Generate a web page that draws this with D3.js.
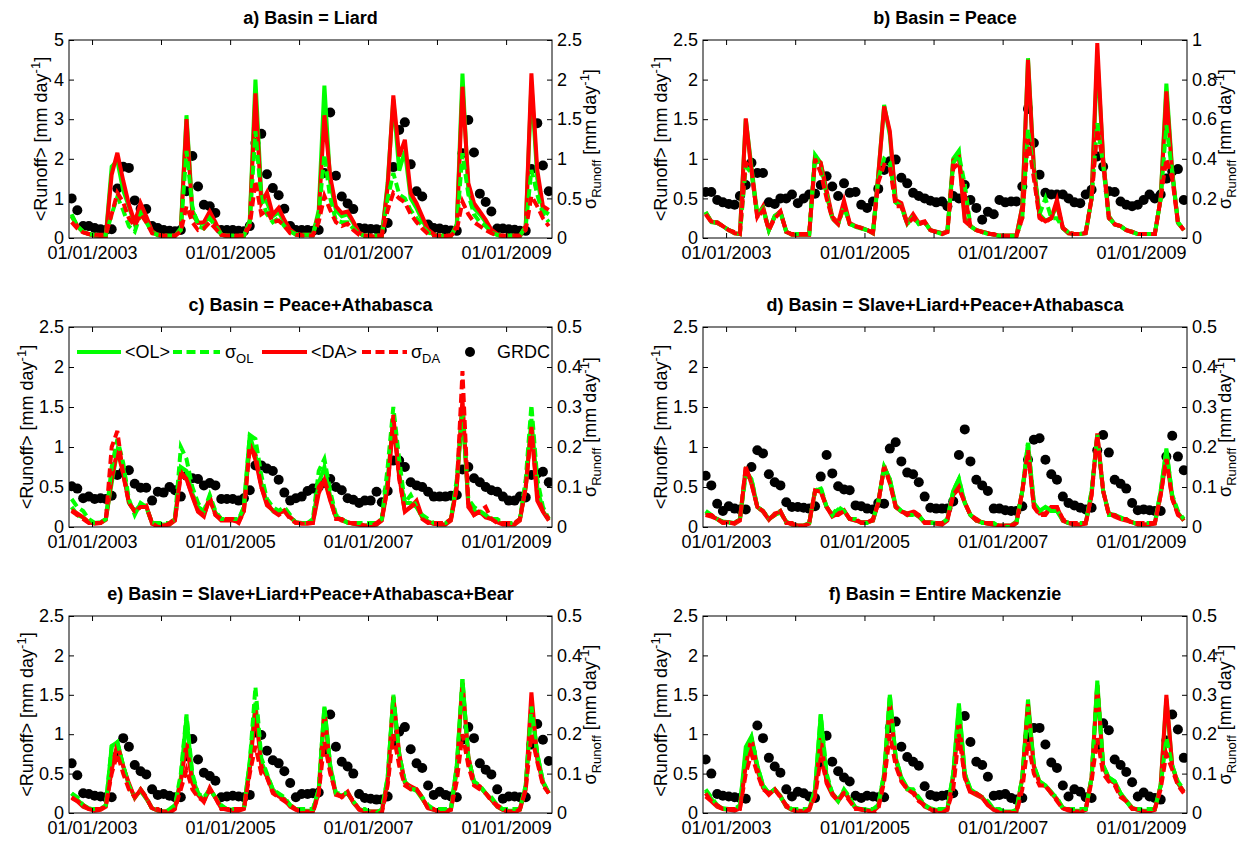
<!DOCTYPE html>
<html>
<head>
<meta charset="utf-8">
<script src="https://cdn.jsdelivr.net/npm/d3@7"></script>
<style>
  body { margin: 0; background: #fff; }
  svg { display: block; font-family: "Liberation Sans", Arial, Helvetica, sans-serif; }
</style>
</head>
<body>
<svg id="chart" width="1245" height="842"></svg>
<script>
"use strict";

// Monthly values, Sep 2002 .. Aug 2009 (84 months). One line per calendar year.

// a) Liard
const liardOL = [0.6, 0.3, 0.15, 0.1,
  0.06, 0.05, 0.05, 1.8, 1.95, 1.2, 0.8, 0.35, 0.8, 0.5, 0.15, 0.07,
  0.05, 0.04, 0.05, 0.25, 3.1, 0.7, 0.4, 0.35, 0.6, 0.35, 0.08, 0.05,
  0.04, 0.04, 0.05, 0.45, 4.0, 1.1, 0.9, 0.55, 0.65, 0.4, 0.18, 0.08,
  0.07, 0.07, 0.07, 0.7, 3.85, 1.4, 0.7, 0.55, 0.6, 0.38, 0.12, 0.05,
  0.04, 0.04, 0.04, 1.4, 3.5, 1.7, 2.2, 1.0, 0.75, 0.45, 0.18, 0.08,
  0.05, 0.05, 0.05, 0.35, 4.15, 1.2, 0.75, 0.6, 0.4, 0.18, 0.08, 0.04,
  0.04, 0.04, 0.04, 0.3, 3.9, 1.5, 0.7, 0.6];
const liardOLsd = [0.28, 0.15, 0.08, 0.05,
  0.04, 0.04, 0.04, 0.3, 0.52, 0.35, 0.15, 0.08, 0.3, 0.2, 0.07, 0.04,
  0.03, 0.03, 0.03, 0.1, 1.1, 0.4, 0.15, 0.12, 0.25, 0.15, 0.05, 0.03,
  0.03, 0.03, 0.03, 0.2, 1.35, 0.5, 0.3, 0.2, 0.25, 0.15, 0.08, 0.05,
  0.04, 0.04, 0.04, 0.3, 1.05, 0.5, 0.22, 0.2, 0.2, 0.12, 0.05, 0.03,
  0.03, 0.03, 0.03, 0.5, 0.82, 0.55, 0.5, 0.35, 0.25, 0.15, 0.07, 0.04,
  0.03, 0.03, 0.03, 0.15, 1.07, 0.55, 0.3, 0.2, 0.15, 0.07, 0.04, 0.03,
  0.03, 0.03, 0.03, 0.15, 0.86, 0.55, 0.3, 0.2];
const liardDA = [0.55, 0.3, 0.15, 0.1,
  0.06, 0.05, 0.05, 1.6, 2.15, 1.45, 0.85, 0.4, 0.88, 0.55, 0.17, 0.08,
  0.05, 0.04, 0.05, 0.2, 3.0, 0.6, 0.38, 0.4, 0.67, 0.4, 0.08, 0.05,
  0.04, 0.04, 0.05, 0.4, 3.65, 0.88, 1.15, 0.59, 0.76, 0.46, 0.21, 0.1,
  0.08, 0.08, 0.08, 0.6, 3.1, 1.55, 0.8, 0.63, 0.67, 0.42, 0.13, 0.06,
  0.04, 0.04, 0.04, 1.3, 3.6, 2.06, 2.48, 1.13, 0.88, 0.55, 0.21, 0.1,
  0.05, 0.05, 0.05, 0.3, 3.82, 1.39, 0.88, 0.67, 0.46, 0.21, 0.1, 0.05,
  0.05, 0.05, 0.05, 0.3, 4.16, 1.72, 0.8, 0.71];
const liardDAsd = [0.2, 0.12, 0.07, 0.05,
  0.04, 0.04, 0.04, 0.3, 0.57, 0.45, 0.25, 0.15, 0.3, 0.2, 0.06, 0.04,
  0.03, 0.03, 0.03, 0.08, 0.4, 0.2, 0.1, 0.12, 0.2, 0.12, 0.04, 0.03,
  0.03, 0.03, 0.03, 0.15, 0.72, 0.3, 0.35, 0.2, 0.22, 0.15, 0.06, 0.04,
  0.03, 0.03, 0.03, 0.2, 0.53, 0.35, 0.2, 0.15, 0.18, 0.1, 0.04, 0.03,
  0.03, 0.03, 0.03, 0.35, 0.57, 0.5, 0.45, 0.3, 0.2, 0.12, 0.05, 0.03,
  0.03, 0.03, 0.03, 0.1, 0.46, 0.3, 0.2, 0.15, 0.1, 0.06, 0.03, 0.03,
  0.03, 0.03, 0.03, 0.1, 0.53, 0.4, 0.25, 0.15];
const liardGRDC = [1.0, 0.7, 0.3, 0.3,
  0.25, 0.22, 0.2, 0.22, 1.25, 1.8, 1.77, 0.95, 0.74, 0.73, 0.3, 0.25,
  0.2, 0.18, 0.17, 0.2, 1.18, 2.07, 1.3, 0.84, 0.8, 0.63, 0.2, 0.2,
  0.2, 0.18, 0.17, 0.3, 2.4, 2.63, 1.61, 1.26, 1.08, 0.74, 0.3, 0.2,
  0.2, 0.2, 0.18, 0.2, 1.64, 3.17, 1.57, 1.05, 0.87, 0.73, 0.25, 0.24,
  0.23, 0.22, 0.2, 0.38, 1.79, 2.73, 2.92, 1.86, 1.18, 1.05, 0.34, 0.25,
  0.24, 0.21, 0.19, 0.18, 2.14, 2.98, 2.16, 1.12, 0.91, 0.67, 0.24, 0.24,
  0.22, 0.21, 0.18, 0.18, 1.74, 2.9, 1.83, 1.18];

// b) Peace
const peaceOL = [0.33, 0.2, 0.19, 0.15,
  0.1, 0.06, 0.05, 1.5, 0.9, 0.3, 0.38, 0.1, 0.28, 0.33, 0.08, 0.04,
  0.04, 0.04, 0.04, 1.05, 0.95, 0.55, 0.25, 0.18, 0.4, 0.18, 0.14, 0.12,
  0.1, 0.06, 0.8, 1.68, 1.3, 0.45, 0.4, 0.18, 0.28, 0.18, 0.2, 0.1,
  0.08, 0.06, 0.08, 1.0, 1.1, 0.25, 0.15, 0.1, 0.08, 0.06, 0.04, 0.03,
  0.03, 0.03, 0.03, 0.4, 2.27, 0.9, 0.3, 0.22, 0.25, 0.42, 0.12, 0.06,
  0.05, 0.05, 0.06, 0.5, 2.3, 1.0, 0.28, 0.17, 0.15, 0.1, 0.08, 0.05,
  0.05, 0.05, 0.05, 0.5, 1.95, 0.85, 0.2, 0.1];
const peaceOLsd = [0.13, 0.08, 0.08, 0.06,
  0.04, 0.03, 0.02, 0.36, 0.33, 0.12, 0.15, 0.04, 0.11, 0.13, 0.03, 0.02,
  0.02, 0.02, 0.02, 0.42, 0.35, 0.22, 0.1, 0.07, 0.16, 0.07, 0.06, 0.05,
  0.04, 0.03, 0.3, 0.4, 0.38, 0.18, 0.16, 0.07, 0.11, 0.07, 0.08, 0.04,
  0.03, 0.02, 0.03, 0.38, 0.42, 0.27, 0.06, 0.04, 0.03, 0.02, 0.02, 0.01,
  0.01, 0.01, 0.01, 0.1, 0.55, 0.33, 0.12, 0.2, 0.1, 0.1, 0.05, 0.03,
  0.02, 0.02, 0.03, 0.2, 0.58, 0.37, 0.1, 0.07, 0.06, 0.04, 0.03, 0.02,
  0.02, 0.02, 0.02, 0.2, 0.57, 0.33, 0.08, 0.04];
const peaceDA = [0.32, 0.21, 0.19, 0.15,
  0.1, 0.06, 0.05, 1.51, 0.85, 0.27, 0.4, 0.1, 0.27, 0.34, 0.08, 0.04,
  0.04, 0.04, 0.04, 1.0, 0.95, 0.6, 0.27, 0.19, 0.47, 0.19, 0.15, 0.13,
  0.1, 0.06, 0.8, 1.66, 1.35, 0.48, 0.44, 0.19, 0.3, 0.19, 0.21, 0.1,
  0.08, 0.06, 0.08, 0.98, 1.02, 0.21, 0.15, 0.1, 0.08, 0.06, 0.04, 0.03,
  0.03, 0.03, 0.03, 0.4, 2.25, 0.86, 0.27, 0.21, 0.25, 0.48, 0.13, 0.06,
  0.05, 0.05, 0.06, 0.5, 2.46, 0.99, 0.27, 0.17, 0.15, 0.1, 0.08, 0.05,
  0.05, 0.05, 0.05, 0.5, 1.85, 0.82, 0.19, 0.1];
const peaceDAsd = [0.12, 0.08, 0.08, 0.06,
  0.04, 0.03, 0.02, 0.38, 0.35, 0.1, 0.14, 0.04, 0.1, 0.13, 0.03, 0.02,
  0.02, 0.02, 0.02, 0.4, 0.33, 0.2, 0.1, 0.07, 0.17, 0.07, 0.06, 0.05,
  0.04, 0.03, 0.28, 0.37, 0.36, 0.16, 0.16, 0.07, 0.1, 0.07, 0.08, 0.04,
  0.03, 0.02, 0.03, 0.35, 0.38, 0.22, 0.06, 0.04, 0.03, 0.02, 0.02, 0.01,
  0.01, 0.01, 0.01, 0.1, 0.5, 0.3, 0.1, 0.08, 0.1, 0.17, 0.05, 0.03,
  0.02, 0.02, 0.03, 0.2, 0.55, 0.38, 0.1, 0.07, 0.06, 0.04, 0.03, 0.02,
  0.02, 0.02, 0.02, 0.2, 0.4, 0.3, 0.08, 0.04];
const peaceGRDC = [0.58, 0.58, 0.48, 0.45,
  0.43, 0.42, 0.53, 0.67, 0.95, 0.82, 0.82, 0.45, 0.43, 0.5, 0.5, 0.55,
  0.44, 0.5, 0.55, 0.56, 0.67, 0.78, 0.65, 0.53, 0.69, 0.57, 0.58, 0.42,
  0.38, 0.46, 0.62, 0.86, 0.97, 0.99, 0.76, 0.69, 0.57, 0.53, 0.5, 0.47,
  0.45, 0.46, 0.4, 0.53, 0.5, 0.67, 0.48, 0.38, 0.23, 0.33, 0.3, 0.48,
  0.45, 0.46, 0.46, 0.65, 1.63, 1.2, 0.8, 0.57, 0.55, 0.55, 0.55, 0.5,
  0.45, 0.44, 0.55, 0.61, 1.03, 0.9, 0.59, 0.58, 0.46, 0.42, 0.4, 0.42,
  0.48, 0.55, 0.5, 0.55, 0.75, 0.84, 0.87, 0.48];

// c) Peace+Athabasca
const paOL = [0.25, 0.15, 0.12, 0.06,
  0.05, 0.06, 0.1, 0.55, 0.95, 0.75, 0.3, 0.2, 0.28, 0.25, 0.05, 0.03,
  0.03, 0.03, 0.1, 0.75, 0.7, 0.42, 0.25, 0.2, 0.35, 0.18, 0.1, 0.09,
  0.09, 0.08, 0.25, 1.15, 0.9, 0.55, 0.3, 0.2, 0.18, 0.2, 0.12, 0.06,
  0.05, 0.05, 0.08, 0.55, 0.75, 0.38, 0.14, 0.09, 0.06, 0.04, 0.03, 0.02,
  0.02, 0.03, 0.1, 0.6, 1.35, 0.65, 0.3, 0.3, 0.25, 0.12, 0.07, 0.04,
  0.03, 0.03, 0.1, 0.55, 1.45, 0.3, 0.2, 0.18, 0.14, 0.1, 0.07, 0.04,
  0.03, 0.03, 0.1, 0.5, 1.35, 0.5, 0.2, 0.09];
const paOLsd = [0.07, 0.05, 0.04, 0.02,
  0.01, 0.01, 0.02, 0.15, 0.22, 0.16, 0.07, 0.03, 0.06, 0.05, 0.01, 0.01,
  0.01, 0.01, 0.02, 0.2, 0.17, 0.1, 0.06, 0.04, 0.08, 0.04, 0.02, 0.02,
  0.02, 0.02, 0.05, 0.23, 0.22, 0.13, 0.07, 0.05, 0.04, 0.05, 0.03, 0.01,
  0.01, 0.01, 0.02, 0.14, 0.17, 0.09, 0.03, 0.02, 0.01, 0.01, 0.01, 0.01,
  0.01, 0.01, 0.02, 0.15, 0.3, 0.17, 0.06, 0.08, 0.05, 0.03, 0.02, 0.01,
  0.01, 0.01, 0.02, 0.12, 0.3, 0.07, 0.05, 0.04, 0.03, 0.02, 0.02, 0.01,
  0.01, 0.01, 0.02, 0.12, 0.305, 0.12, 0.05, 0.02];
const paDA = [0.21, 0.17, 0.12, 0.06,
  0.04, 0.05, 0.09, 0.6, 0.96, 0.67, 0.31, 0.19, 0.25, 0.27, 0.04, 0.02,
  0.02, 0.03, 0.08, 0.69, 0.6, 0.38, 0.19, 0.13, 0.38, 0.15, 0.08, 0.08,
  0.08, 0.06, 0.2, 1.04, 0.84, 0.5, 0.27, 0.21, 0.17, 0.21, 0.12, 0.06,
  0.04, 0.04, 0.05, 0.42, 0.59, 0.33, 0.12, 0.08, 0.06, 0.04, 0.03, 0.02,
  0.02, 0.03, 0.08, 0.5, 1.3, 0.63, 0.19, 0.25, 0.33, 0.12, 0.06, 0.04,
  0.03, 0.03, 0.08, 0.5, 1.6, 0.25, 0.15, 0.19, 0.12, 0.1, 0.06, 0.03,
  0.03, 0.03, 0.08, 0.5, 1.25, 0.33, 0.19, 0.08];
const paDAsd = [0.04, 0.03, 0.02, 0.01,
  0.01, 0.01, 0.02, 0.2, 0.24, 0.13, 0.06, 0.04, 0.05, 0.05, 0.01, 0.0,
  0.0, 0.01, 0.02, 0.13, 0.12, 0.08, 0.04, 0.03, 0.07, 0.03, 0.02, 0.02,
  0.02, 0.01, 0.04, 0.2, 0.18, 0.1, 0.06, 0.04, 0.03, 0.04, 0.02, 0.01,
  0.01, 0.01, 0.01, 0.1, 0.12, 0.07, 0.02, 0.02, 0.01, 0.01, 0.01, 0.0,
  0.0, 0.01, 0.02, 0.1, 0.28, 0.12, 0.04, 0.05, 0.06, 0.02, 0.01, 0.01,
  0.01, 0.01, 0.02, 0.1, 0.39, 0.06, 0.03, 0.04, 0.05, 0.02, 0.01, 0.01,
  0.01, 0.01, 0.02, 0.1, 0.25, 0.08, 0.04, 0.02];
const paGRDC = [0.51, 0.48, 0.36, 0.38,
  0.35, 0.36, 0.35, 0.39, 0.65, 0.69, 0.71, 0.54, 0.49, 0.49, 0.33, 0.44,
  0.43, 0.5, 0.46, 0.38, 0.64, 0.61, 0.6, 0.52, 0.55, 0.52, 0.35, 0.35,
  0.35, 0.33, 0.36, 0.46, 0.77, 0.77, 0.73, 0.7, 0.59, 0.43, 0.33, 0.36,
  0.38, 0.45, 0.48, 0.5, 0.55, 0.6, 0.5, 0.46, 0.36, 0.34, 0.3, 0.33,
  0.33, 0.44, 0.31, 0.45, 0.83, 0.83, 0.75, 0.56, 0.52, 0.5, 0.44, 0.38,
  0.38, 0.38, 0.39, 0.4, 0.72, 0.75, 0.61, 0.56, 0.5, 0.46, 0.44, 0.38,
  0.33, 0.33, 0.38, 0.37, 0.65, 0.67, 0.69, 0.56];

// d) Slave+Liard+Peace+Athabasca
const slpaOL = [0.18, 0.14, 0.1, 0.07,
  0.06, 0.05, 0.1, 0.7, 0.6, 0.25, 0.2, 0.1, 0.15, 0.18, 0.07, 0.03,
  0.02, 0.02, 0.05, 0.45, 0.48, 0.25, 0.15, 0.22, 0.2, 0.1, 0.08, 0.06,
  0.06, 0.08, 0.32, 0.75, 0.6, 0.27, 0.2, 0.17, 0.17, 0.13, 0.06, 0.06,
  0.05, 0.04, 0.1, 0.45, 0.6, 0.3, 0.15, 0.08, 0.06, 0.04, 0.03, 0.02,
  0.02, 0.02, 0.07, 0.45, 1.05, 0.3, 0.2, 0.25, 0.2, 0.2, 0.08, 0.05,
  0.03, 0.03, 0.05, 0.45, 1.12, 0.45, 0.17, 0.15, 0.12, 0.09, 0.06, 0.03,
  0.03, 0.03, 0.05, 0.45, 0.98, 0.38, 0.18, 0.08];
const slpaOLsd = [0.04, 0.03, 0.02, 0.01,
  0.01, 0.01, 0.02, 0.13, 0.12, 0.05, 0.04, 0.02, 0.03, 0.04, 0.01, 0.01,
  0.0, 0.0, 0.01, 0.09, 0.1, 0.05, 0.03, 0.05, 0.04, 0.02, 0.02, 0.01,
  0.01, 0.02, 0.06, 0.15, 0.12, 0.05, 0.04, 0.03, 0.03, 0.03, 0.01, 0.01,
  0.01, 0.01, 0.02, 0.09, 0.12, 0.06, 0.03, 0.02, 0.01, 0.01, 0.01, 0.0,
  0.0, 0.0, 0.01, 0.09, 0.21, 0.06, 0.04, 0.05, 0.04, 0.04, 0.02, 0.01,
  0.01, 0.01, 0.01, 0.09, 0.23, 0.09, 0.03, 0.03, 0.02, 0.02, 0.01, 0.01,
  0.01, 0.01, 0.01, 0.09, 0.19, 0.08, 0.04, 0.02];
const slpaDA = [0.15, 0.13, 0.1, 0.06,
  0.06, 0.04, 0.08, 0.75, 0.54, 0.25, 0.19, 0.09, 0.17, 0.19, 0.06, 0.03,
  0.02, 0.02, 0.04, 0.46, 0.44, 0.25, 0.13, 0.17, 0.21, 0.1, 0.08, 0.06,
  0.06, 0.08, 0.3, 0.77, 0.56, 0.25, 0.19, 0.17, 0.19, 0.13, 0.06, 0.06,
  0.04, 0.03, 0.08, 0.4, 0.48, 0.31, 0.15, 0.08, 0.06, 0.04, 0.03, 0.02,
  0.02, 0.02, 0.06, 0.45, 0.96, 0.25, 0.17, 0.17, 0.25, 0.25, 0.08, 0.05,
  0.03, 0.03, 0.04, 0.4, 1.17, 0.45, 0.17, 0.13, 0.1, 0.08, 0.06, 0.03,
  0.03, 0.03, 0.04, 0.4, 0.86, 0.36, 0.17, 0.08];
const slpaDAsd = [0.03, 0.03, 0.02, 0.01,
  0.01, 0.01, 0.02, 0.15, 0.11, 0.05, 0.04, 0.02, 0.03, 0.04, 0.01, 0.01,
  0.0, 0.0, 0.01, 0.09, 0.09, 0.05, 0.03, 0.03, 0.04, 0.02, 0.02, 0.01,
  0.01, 0.02, 0.06, 0.15, 0.11, 0.05, 0.04, 0.03, 0.04, 0.03, 0.01, 0.01,
  0.01, 0.01, 0.02, 0.08, 0.1, 0.06, 0.03, 0.02, 0.01, 0.01, 0.01, 0.0,
  0.0, 0.0, 0.01, 0.09, 0.19, 0.05, 0.03, 0.03, 0.05, 0.05, 0.02, 0.01,
  0.01, 0.01, 0.01, 0.08, 0.23, 0.09, 0.03, 0.03, 0.02, 0.02, 0.01, 0.01,
  0.01, 0.01, 0.01, 0.08, 0.17, 0.07, 0.03, 0.02];
const slpaGRDC = [0.64, 0.52, 0.29, 0.2,
  0.26, 0.23, 0.22, 0.22, 0.75, 0.96, 0.92, 0.66, 0.56, 0.52, 0.31, 0.25,
  0.25, 0.24, 0.23, 0.26, 0.63, 0.9, 0.67, 0.51, 0.47, 0.46, 0.27, 0.26,
  0.23, 0.22, 0.3, 0.29, 0.98, 1.06, 0.82, 0.68, 0.66, 0.56, 0.38, 0.24,
  0.23, 0.23, 0.23, 0.32, 0.9, 1.22, 0.82, 0.59, 0.52, 0.45, 0.23, 0.23,
  0.21, 0.2, 0.2, 0.26, 0.84, 1.09, 1.11, 0.84, 0.66, 0.59, 0.38, 0.3,
  0.27, 0.24, 0.22, 0.24, 0.96, 1.15, 0.93, 0.59, 0.54, 0.48, 0.3, 0.21,
  0.22, 0.21, 0.2, 0.2, 0.88, 1.14, 0.88, 0.71];

// e) Slave+Liard+Peace+Athabasca+Bear
const slpabOL = [0.25, 0.17, 0.1, 0.06,
  0.04, 0.05, 0.1, 0.85, 0.9, 0.6, 0.35, 0.2, 0.28, 0.18, 0.06, 0.03,
  0.02, 0.03, 0.08, 0.45, 1.22, 0.45, 0.25, 0.16, 0.3, 0.2, 0.08, 0.05,
  0.04, 0.04, 0.06, 0.65, 1.4, 0.65, 0.48, 0.3, 0.22, 0.18, 0.1, 0.05,
  0.03, 0.03, 0.03, 0.3, 1.35, 0.6, 0.25, 0.22, 0.25, 0.14, 0.05, 0.03,
  0.02, 0.02, 0.03, 0.45, 1.47, 0.72, 0.4, 0.32, 0.28, 0.18, 0.07, 0.04,
  0.03, 0.03, 0.05, 0.6, 1.7, 0.7, 0.4, 0.33, 0.25, 0.17, 0.08, 0.04,
  0.03, 0.03, 0.05, 0.35, 1.35, 0.75, 0.4, 0.25];
const slpabOLsd = [0.05, 0.04, 0.02, 0.01,
  0.01, 0.01, 0.02, 0.17, 0.18, 0.12, 0.07, 0.04, 0.06, 0.04, 0.01, 0.01,
  0.0, 0.01, 0.02, 0.1, 0.25, 0.1, 0.05, 0.04, 0.06, 0.04, 0.02, 0.01,
  0.01, 0.01, 0.01, 0.13, 0.32, 0.14, 0.1, 0.06, 0.05, 0.04, 0.02, 0.01,
  0.01, 0.01, 0.01, 0.06, 0.27, 0.12, 0.05, 0.05, 0.05, 0.03, 0.01, 0.01,
  0.0, 0.0, 0.01, 0.09, 0.3, 0.15, 0.08, 0.06, 0.06, 0.04, 0.02, 0.01,
  0.01, 0.01, 0.01, 0.12, 0.34, 0.14, 0.08, 0.07, 0.05, 0.04, 0.02, 0.01,
  0.01, 0.01, 0.01, 0.07, 0.27, 0.15, 0.08, 0.05];
const slpabDA = [0.19, 0.15, 0.08, 0.05,
  0.03, 0.04, 0.08, 0.55, 0.88, 0.59, 0.38, 0.19, 0.3, 0.19, 0.06, 0.03,
  0.02, 0.02, 0.06, 0.4, 0.89, 0.38, 0.23, 0.14, 0.32, 0.19, 0.06, 0.04,
  0.03, 0.03, 0.05, 0.55, 1.31, 0.59, 0.46, 0.27, 0.21, 0.17, 0.08, 0.04,
  0.02, 0.02, 0.02, 0.25, 1.3, 0.55, 0.23, 0.21, 0.27, 0.13, 0.04, 0.02,
  0.02, 0.02, 0.02, 0.4, 1.48, 0.76, 0.38, 0.34, 0.3, 0.19, 0.06, 0.04,
  0.02, 0.02, 0.04, 0.55, 1.65, 0.72, 0.38, 0.34, 0.25, 0.17, 0.08, 0.04,
  0.02, 0.02, 0.04, 0.3, 1.53, 0.68, 0.38, 0.25];
const slpabDAsd = [0.04, 0.03, 0.02, 0.01,
  0.01, 0.01, 0.02, 0.1, 0.15, 0.1, 0.06, 0.04, 0.06, 0.04, 0.01, 0.01,
  0.0, 0.0, 0.01, 0.06, 0.11, 0.06, 0.04, 0.03, 0.06, 0.04, 0.01, 0.01,
  0.01, 0.01, 0.01, 0.1, 0.17, 0.1, 0.09, 0.05, 0.04, 0.03, 0.02, 0.01,
  0.0, 0.0, 0.0, 0.05, 0.18, 0.1, 0.05, 0.04, 0.05, 0.03, 0.01, 0.0,
  0.0, 0.0, 0.0, 0.07, 0.2, 0.12, 0.07, 0.06, 0.06, 0.04, 0.01, 0.01,
  0.0, 0.0, 0.01, 0.08, 0.2, 0.12, 0.07, 0.06, 0.05, 0.03, 0.02, 0.01,
  0.0, 0.0, 0.01, 0.06, 0.2, 0.13, 0.07, 0.05];
const slpabGRDC = [0.63, 0.48, 0.25, 0.24,
  0.22, 0.21, 0.2, 0.2, 0.73, 0.95, 0.84, 0.61, 0.53, 0.49, 0.3, 0.23,
  0.24, 0.22, 0.2, 0.2, 0.72, 0.94, 0.68, 0.51, 0.47, 0.41, 0.2, 0.21,
  0.22, 0.21, 0.2, 0.23, 1.02, 0.99, 0.79, 0.67, 0.63, 0.53, 0.38, 0.2,
  0.24, 0.24, 0.25, 0.26, 0.8, 1.25, 0.84, 0.65, 0.59, 0.5, 0.24, 0.19,
  0.18, 0.17, 0.17, 0.21, 0.88, 1.03, 1.09, 0.81, 0.63, 0.57, 0.35, 0.23,
  0.27, 0.23, 0.21, 0.2, 0.93, 1.09, 0.95, 0.63, 0.55, 0.49, 0.3, 0.18,
  0.21, 0.21, 0.2, 0.2, 0.87, 1.13, 0.93, 0.66];

// f) Entire Mackenzie
const mackOL = [0.28, 0.18, 0.09, 0.06,
  0.05, 0.04, 0.08, 0.84, 0.97, 0.6, 0.35, 0.25, 0.3, 0.22, 0.08, 0.04,
  0.03, 0.03, 0.05, 0.3, 1.25, 0.45, 0.25, 0.17, 0.28, 0.18, 0.07, 0.05,
  0.04, 0.03, 0.1, 0.5, 1.5, 0.7, 0.45, 0.32, 0.28, 0.18, 0.1, 0.06,
  0.04, 0.03, 0.05, 0.5, 1.39, 0.5, 0.3, 0.25, 0.2, 0.12, 0.05, 0.03,
  0.02, 0.02, 0.03, 0.45, 1.44, 0.6, 0.4, 0.35, 0.27, 0.18, 0.07, 0.04,
  0.03, 0.03, 0.05, 0.45, 1.68, 0.6, 0.45, 0.4, 0.25, 0.16, 0.07, 0.04,
  0.03, 0.03, 0.05, 0.35, 1.45, 0.6, 0.38, 0.27];
const mackOLsd = [0.06, 0.04, 0.02, 0.01,
  0.01, 0.01, 0.02, 0.15, 0.19, 0.12, 0.07, 0.05, 0.06, 0.04, 0.02, 0.01,
  0.01, 0.01, 0.01, 0.06, 0.25, 0.1, 0.05, 0.03, 0.06, 0.04, 0.01, 0.01,
  0.01, 0.01, 0.02, 0.1, 0.3, 0.14, 0.09, 0.06, 0.06, 0.04, 0.02, 0.01,
  0.01, 0.01, 0.01, 0.1, 0.27, 0.1, 0.06, 0.05, 0.04, 0.03, 0.01, 0.01,
  0.0, 0.0, 0.01, 0.09, 0.27, 0.12, 0.08, 0.07, 0.05, 0.04, 0.01, 0.01,
  0.01, 0.01, 0.01, 0.09, 0.33, 0.12, 0.09, 0.08, 0.05, 0.03, 0.01, 0.01,
  0.01, 0.01, 0.01, 0.07, 0.19, 0.12, 0.08, 0.06];
const mackDA = [0.21, 0.15, 0.08, 0.05,
  0.04, 0.03, 0.06, 0.6, 0.95, 0.55, 0.32, 0.23, 0.3, 0.21, 0.08, 0.04,
  0.03, 0.02, 0.04, 0.25, 0.95, 0.38, 0.23, 0.15, 0.27, 0.17, 0.06, 0.04,
  0.03, 0.02, 0.08, 0.45, 1.41, 0.68, 0.42, 0.3, 0.27, 0.17, 0.08, 0.05,
  0.03, 0.02, 0.04, 0.45, 1.2, 0.45, 0.27, 0.23, 0.19, 0.1, 0.04, 0.02,
  0.01, 0.01, 0.02, 0.45, 1.38, 0.59, 0.38, 0.34, 0.25, 0.17, 0.06, 0.03,
  0.02, 0.02, 0.04, 0.45, 1.62, 0.59, 0.42, 0.38, 0.23, 0.15, 0.06, 0.04,
  0.02, 0.02, 0.04, 0.35, 1.5, 0.59, 0.38, 0.27];
const mackDAsd = [0.05, 0.03, 0.02, 0.01,
  0.01, 0.01, 0.01, 0.1, 0.15, 0.1, 0.06, 0.05, 0.06, 0.04, 0.02, 0.01,
  0.0, 0.0, 0.01, 0.04, 0.14, 0.08, 0.05, 0.03, 0.05, 0.03, 0.01, 0.01,
  0.0, 0.0, 0.01, 0.08, 0.2, 0.12, 0.08, 0.06, 0.05, 0.03, 0.02, 0.01,
  0.0, 0.0, 0.01, 0.06, 0.2, 0.09, 0.05, 0.05, 0.04, 0.02, 0.01, 0.0,
  0.0, 0.0, 0.0, 0.06, 0.18, 0.1, 0.07, 0.07, 0.05, 0.03, 0.01, 0.01,
  0.0, 0.0, 0.01, 0.08, 0.19, 0.1, 0.08, 0.07, 0.04, 0.03, 0.01, 0.01,
  0.0, 0.0, 0.01, 0.06, 0.15, 0.11, 0.07, 0.05];
const mackGRDC = [0.68, 0.5, 0.24, 0.22,
  0.21, 0.2, 0.19, 0.18, 0.78, 1.11, 0.95, 0.7, 0.59, 0.51, 0.3, 0.21,
  0.27, 0.25, 0.21, 0.19, 0.63, 0.98, 0.65, 0.53, 0.45, 0.4, 0.22, 0.19,
  0.22, 0.21, 0.2, 0.2, 1.08, 1.16, 0.84, 0.71, 0.65, 0.6, 0.34, 0.23,
  0.21, 0.22, 0.23, 0.25, 0.89, 1.23, 0.9, 0.65, 0.61, 0.46, 0.22, 0.23,
  0.24, 0.19, 0.17, 0.19, 0.96, 1.08, 1.08, 0.87, 0.64, 0.57, 0.35, 0.21,
  0.3, 0.27, 0.2, 0.19, 0.84, 1.14, 1.05, 0.68, 0.61, 0.52, 0.39, 0.21,
  0.26, 0.21, 0.19, 0.17, 0.92, 1.25, 1.06, 0.7];

// tick values
const leftTicksLiard = [0, 1, 2, 3, 4, 5];
const leftTicks = [0, 0.5, 1, 1.5, 2, 2.5];
const rightTicksLiard = [0, 0.5, 1, 1.5, 2, 2.5];
const rightTicksPeace = [0, 0.2, 0.4, 0.6, 0.8, 1];
const rightTicksOther = [0, 0.1, 0.2, 0.3, 0.4, 0.5];
const tickYears = [2003, 2004, 2005, 2006, 2007, 2008, 2009];
const labelYears = [2003, 2005, 2007, 2009];

const panels = [
  { title: "a) Basin = Liard", ol: liardOL, olSd: liardOLsd, da: liardDA, daSd: liardDAsd, grdc: liardGRDC,
    left: leftTicksLiard, right: rightTicksLiard },
  { title: "b) Basin = Peace", ol: peaceOL, olSd: peaceOLsd, da: peaceDA, daSd: peaceDAsd, grdc: peaceGRDC,
    left: leftTicks, right: rightTicksPeace },
  { title: "c) Basin = Peace+Athabasca", ol: paOL, olSd: paOLsd, da: paDA, daSd: paDAsd, grdc: paGRDC,
    left: leftTicks, right: rightTicksOther },
  { title: "d) Basin = Slave+Liard+Peace+Athabasca", ol: slpaOL, olSd: slpaOLsd, da: slpaDA, daSd: slpaDAsd, grdc: slpaGRDC,
    left: leftTicks, right: rightTicksOther },
  { title: "e) Basin = Slave+Liard+Peace+Athabasca+Bear", ol: slpabOL, olSd: slpabOLsd, da: slpabDA, daSd: slpabDAsd, grdc: slpabGRDC,
    left: leftTicks, right: rightTicksOther },
  { title: "f) Basin = Entire Mackenzie", ol: mackOL, olSd: mackOLsd, da: mackDA, daSd: mackDAsd, grdc: mackGRDC,
    left: leftTicks, right: rightTicksOther }
];

// layout (pixels)
const colLeft = [69, 703];
const colWidth = [483, 484];
const rowTop = [40, 327, 616];
const rowHeight = [198, 200, 197];

const GREEN = "#00ff00";
const RED = "#ff0000";
const LW = 4;
const DASH = "9,4.5";
const FONT = 18;

const firstMonth = new Date(2002, 8, 15);
const monthDate = i => d3.timeMonth.offset(firstMonth, i);
const fmtDate = d3.timeFormat("%d/%m/%Y");

const svg = d3.select("#chart");
svg.append("rect").attr("width", 1245).attr("height", 842).attr("fill", "#fff");

function styleAxis(g) {
  g.select(".domain").remove();
  g.selectAll("text").attr("font-size", FONT).attr("fill", "#000")
    .attr("font-family", "'Liberation Sans', Arial, Helvetica, sans-serif");
  g.selectAll("line").attr("stroke", "#000");
}

function rotatedLabel(g, bx, cy, sigma) {
  const t = g.append("text")
    .attr("transform", `translate(${bx},${cy}) rotate(-90)`)
    .attr("text-anchor", "middle")
    .attr("font-size", FONT)
    .attr("fill", "#000");
  if (sigma) {
    t.append("tspan").text("σ");
    t.append("tspan").attr("font-size", 13).attr("dy", 5).text("Runoff");
    t.append("tspan").attr("dy", -5).text(" [mm day");
  } else {
    t.append("tspan").text("<Runoff> [mm day");
  }
  t.append("tspan").attr("font-size", 13).attr("dy", -7).text("-1");
  t.append("tspan").attr("dy", 7).text("]");
}

panels.forEach((p, idx) => {
  const col = idx % 2, row = Math.floor(idx / 2);
  const x0 = colLeft[col], w = colWidth[col], y0 = rowTop[row], h = rowHeight[row];
  const g = svg.append("g");

  const x = d3.scaleTime()
    .domain([new Date(2002, 8, 1), new Date(2009, 8, 1)])
    .range([x0, x0 + w]);
  const yL = d3.scaleLinear().domain([0, d3.max(p.left)]).range([y0 + h, y0]);
  const yR = d3.scaleLinear().domain([0, d3.max(p.right)]).range([y0 + h, y0]);

  const clipId = "clip" + idx;
  svg.append("clipPath").attr("id", clipId)
    .append("rect").attr("x", x0).attr("y", y0).attr("width", w).attr("height", h);

  const plot = g.append("g").attr("clip-path", `url(#${clipId})`);

  // GRDC observations
  plot.append("g").selectAll("circle")
    .data(p.grdc)
    .join("circle")
    .attr("cx", (d, i) => x(monthDate(i)))
    .attr("cy", d => yL(d))
    .attr("r", 5)
    .attr("fill", "#000");

  const lineL = d3.line().x((d, i) => x(monthDate(i))).y(d => yL(d));
  const lineR = d3.line().x((d, i) => x(monthDate(i))).y(d => yR(d));

  plot.append("path").attr("d", lineL(p.ol)).attr("fill", "none")
    .attr("stroke", GREEN).attr("stroke-width", LW);
  plot.append("path").attr("d", lineL(p.da)).attr("fill", "none")
    .attr("stroke", RED).attr("stroke-width", LW);
  plot.append("path").attr("d", lineR(p.olSd)).attr("fill", "none")
    .attr("stroke", GREEN).attr("stroke-width", LW).attr("stroke-dasharray", DASH);
  plot.append("path").attr("d", lineR(p.daSd)).attr("fill", "none")
    .attr("stroke", RED).attr("stroke-width", LW).attr("stroke-dasharray", DASH);

  // axes
  const yearDates = tickYears.map(y => new Date(y, 0, 1));
  g.append("g").attr("transform", `translate(0,${y0 + h})`)
    .call(d3.axisBottom(x).tickValues(yearDates).tickSizeInner(-5).tickSizeOuter(0).tickPadding(8)
      .tickFormat(d => labelYears.includes(d.getFullYear()) ? fmtDate(d) : ""))
    .call(styleAxis);
  g.append("g").attr("transform", `translate(0,${y0})`)
    .call(d3.axisTop(x).tickValues(yearDates).tickSizeInner(-5).tickSizeOuter(0).tickFormat(""))
    .call(styleAxis);
  g.append("g").attr("transform", `translate(${x0},0)`)
    .call(d3.axisLeft(yL).tickValues(p.left).tickSizeInner(-5).tickSizeOuter(0).tickPadding(5)
      .tickFormat(d3.format("~g")))
    .call(styleAxis);
  g.append("g").attr("transform", `translate(${x0 + w},0)`)
    .call(d3.axisRight(yR).tickValues(p.right).tickSizeInner(-5).tickSizeOuter(0).tickPadding(5)
      .tickFormat(d3.format("~g")))
    .call(styleAxis);

  g.append("rect").attr("x", x0).attr("y", y0).attr("width", w).attr("height", h)
    .attr("fill", "none").attr("stroke", "#000").attr("stroke-width", 1);

  // title and axis labels
  g.append("text").attr("x", x0 + w / 2).attr("y", y0 - 16)
    .attr("text-anchor", "middle").attr("font-size", FONT).attr("font-weight", "bold")
    .text(p.title);

  const leftOffset = idx === 0 ? 22 : 36;
  rotatedLabel(g, x0 - leftOffset, y0 + h / 2, false);
  rotatedLabel(g, x0 + w + 44, y0 + h / 2, true);

  // legend inside panel c
  if (idx === 2) {
    const ly = 352;
    const lg = g.append("g").attr("font-size", FONT);
    const items = [
      { x1: 77, x2: 121, color: GREEN, dash: null, tx: 125, label: "<OL>" },
      { x1: 173, x2: 220, color: GREEN, dash: DASH, tx: 225, label: "σ", sub: "OL" },
      { x1: 262, x2: 307, color: RED, dash: null, tx: 311, label: "<DA>" },
      { x1: 362, x2: 407, color: RED, dash: DASH, tx: 411, label: "σ", sub: "DA" }
    ];
    items.forEach(it => {
      lg.append("line").attr("x1", it.x1).attr("x2", it.x2).attr("y1", ly).attr("y2", ly)
        .attr("stroke", it.color).attr("stroke-width", LW)
        .attr("stroke-dasharray", it.dash);
      const t = lg.append("text").attr("x", it.tx).attr("y", ly + 6).text(it.label);
      if (it.sub) t.append("tspan").attr("font-size", 13).attr("dy", 5).text(it.sub);
    });
    lg.append("circle").attr("cx", 470).attr("cy", ly).attr("r", 5).attr("fill", "#000");
    lg.append("text").attr("x", 497).attr("y", ly + 6).text("GRDC");
  }
});
</script>
</body>
</html>
